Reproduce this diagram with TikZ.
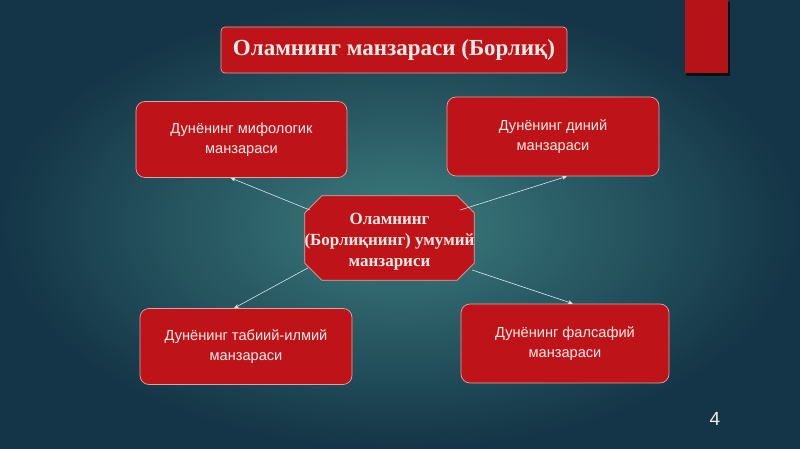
\documentclass[tikz,border=0pt]{standalone}
\usepackage{fontspec}
\setmainfont{Liberation Serif}
\setsansfont{Liberation Sans}
\usetikzlibrary{arrows.meta,backgrounds}
\definecolor{bgin}{HTML}{3C7C7E}
\definecolor{bgout}{HTML}{143547}
\definecolor{boxred}{HTML}{BE1419}
\definecolor{boxedge}{HTML}{D9A7A2}
\definecolor{txt}{HTML}{FCEDE8}
\definecolor{arrc}{HTML}{D4E6E8}
\tikzset{
  x=1pt,y=-1pt,
  redbox/.style={draw=boxedge, line width=0.7pt, fill=boxred, rounded corners=9pt,
    minimum width=211pt, minimum height=76pt, align=center, text=txt,
    font=\sffamily\fontsize{14.6}{19.5}\selectfont},
  titlebox/.style={draw=boxedge, line width=0.7pt, fill=boxred, rounded corners=4pt,
    minimum width=346pt, minimum height=46pt, text=txt,
    font=\bfseries\fontsize{23}{26}\selectfont},
  octo/.style={inner sep=0pt, minimum width=169pt, minimum height=84pt},
  centertext/.style={inner sep=0pt, align=center, text=txt,
    font=\bfseries\fontsize{17}{21}\selectfont},
  arr/.style={draw=arrc, line width=0.6pt, -{Stealth[length=5pt,width=4pt]}}
}
\begin{document}
\begin{tikzpicture}
\useasboundingbox (0,0) rectangle (800,449);
% red bar top right
\fill[black!70!bgout] (686,2) rectangle (730,76);
\fill[boxred!95!black] (685,0) rectangle (728,73);
% title
\node[titlebox] (title) at (394,50) {Оламнинг манзараси (Борлиқ)};
% boxes
\node[redbox] (tl) at (241.5,139.5) {Дунёнинг мифологик\\манзараси};
\node[redbox, minimum width=212pt, minimum height=79pt] (tr) at (553,136.5) {Дунёнинг диний\\манзараси};
\node[redbox, minimum width=212pt] (bl) at (246,346.5) {Дунёнинг табиий-илмий\\манзараси};
\node[redbox, minimum width=208pt, minimum height=79pt] (br) at (565,343.5) {Дунёнинг фалсафий\\манзараси};
% center
\node[octo] (c) at (389.5,238) {};
\begin{scope}[on background layer]
\shade[inner color=bgin, outer color=bgout] (0,0) rectangle (800,449);
\fill[boxred, draw=boxedge, line width=0.7pt]
  ([xshift=17pt]c.north west) -- ([xshift=-17pt]c.north east) -- ([yshift=-17pt]c.north east)
  -- ([yshift=17pt]c.south east) -- ([xshift=-17pt]c.south east) -- ([xshift=17pt]c.south west)
  -- ([yshift=17pt]c.south west) -- ([yshift=-17pt]c.north west) -- cycle;
\end{scope}
\node[centertext] (ct) at ([yshift=-4pt]c.center) {Оламнинг\\(Борлиқнинг) умумий\\манзариси};
% connectors
\coordinate (s1) at ([xshift=5pt,yshift=28pt]c.west);
\coordinate (s2) at ([xshift=-14pt,yshift=28pt]c.east);
\coordinate (s3) at ([xshift=3pt,yshift=-30pt]c.west);
\coordinate (s4) at ([xshift=-2pt,yshift=-32pt]c.east);
\draw[arr] (s1) -- ([xshift=-11pt]tl.south);
\draw[arr] (s2) -- ([xshift=14pt]tr.south);
\draw[arr] (s3) -- ([xshift=-12pt]bl.north);
\draw[arr] (s4) -- ([xshift=8pt]br.north);
% page number
\node[text=txt!80!arrc, font=\sffamily\fontsize{19}{22}\selectfont] (num) at (715,419) {4};
\end{tikzpicture}
\end{document}
